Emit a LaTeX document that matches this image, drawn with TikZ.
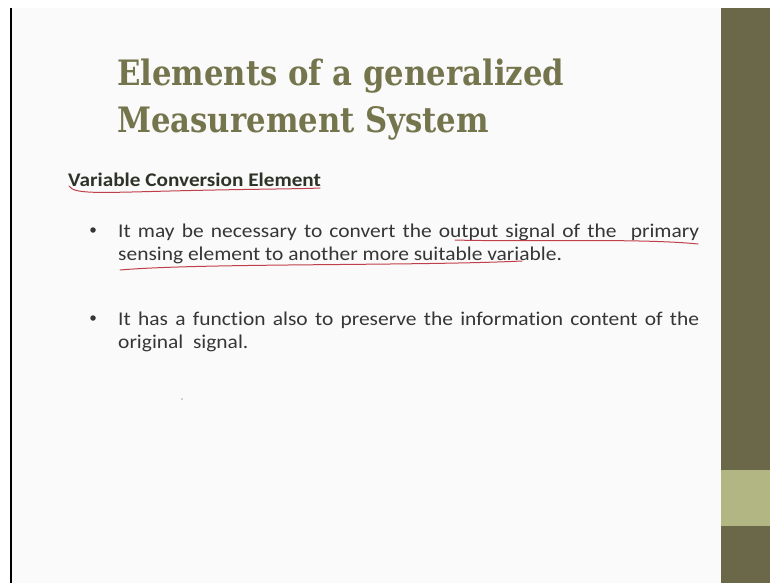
\documentclass[tikz,border=0pt]{standalone}
\usepackage{fontspec}
\setmainfont[FakeStretch=1.1,Ligatures=NoCommon]{Carlito}
\newfontfamily\titlefont[FakeStretch=0.878]{DejaVu Serif}
\definecolor{slidebg}{HTML}{FAFAFA}
\definecolor{barDark}{HTML}{6A6849}
\definecolor{barLight}{HTML}{B1B682}
\definecolor{titleCol}{HTML}{75754D}
\definecolor{bodyCol}{HTML}{363636}
\definecolor{headCol}{HTML}{2E3328}
\definecolor{inkRed}{HTML}{C0404A}
\tikzset{
  titletext/.style={anchor=base west, inner sep=0pt, text=titleCol,
    font=\titlefont\bfseries\fontsize{35}{46}\selectfont},
  headtext/.style={anchor=base west, inner sep=0pt, text=headCol,
    font=\bfseries\fontsize{19.3}{23}\selectfont},
  bodytext/.style={anchor=base west, inner sep=0pt, text=bodyCol,
    text width=581pt, align=justify,
    font=\fontsize{19.5}{23}\selectfont},
  bulletdot/.style={circle, fill=bodyCol, inner sep=0pt, minimum size=5.5pt},
  pen/.style={draw=inkRed, line width=1pt, line cap=round}
}
\begin{document}
\begin{tikzpicture}[x=1pt,y=-1pt]
  % page and slide area
  \useasboundingbox (0,0) rectangle (770,583);
  \fill[white] (0,0) rectangle (770,583);
  \fill[slidebg] (11,8) rectangle (721,583);
  \draw[black, line width=1.5pt] (11,8) -- (11,583);
  % decorative side bar
  \fill[barDark] (721,8) rectangle (770,583);
  \fill[barLight] (721,470) rectangle (770,526);

  % title
  \node[titletext] (t1) at (117,86) {Elements of a generalized};
  \node[titletext] (t2) at (117,132) {Measurement System};

  % section heading
  \node[headtext] (head) at (68,186) {Variable Conversion Element};

  % bullet points
  \node[bulletdot] (b1) at (93,230) {};
  \node[bodytext] (p1) at (118,237) {It may be necessary to convert the output signal of the\ \ primary\linebreak sensing element to another more suitable variable.};
  \node[bulletdot] (b2) at (93,318) {};
  \node[bodytext] (p2) at (118,325) {It has a function also to preserve the information content of the\linebreak original\ \ signal.};

  % small speck
  \fill[gray!70] (182,399) circle (0.8pt);

  % hand-drawn underlines
  \coordinate (u1a) at (69,186);
  \coordinate (u1b) at (320,188);
  \draw[pen] (u1a) .. controls (74,194) and (95,193) .. (170,191)
             .. controls (250,189) and (300,189) .. (u1b);
  \coordinate (u2a) at (455,240);
  \coordinate (u2b) at (698,244);
  \draw[pen] (u2a) .. controls (520,242) and (640,238) .. (u2b);
  \coordinate (u3a) at (120,270);
  \coordinate (u3b) at (522,261);
  \draw[pen] (u3a) .. controls (200,263) and (420,266) .. (u3b);
\end{tikzpicture}
\end{document}
